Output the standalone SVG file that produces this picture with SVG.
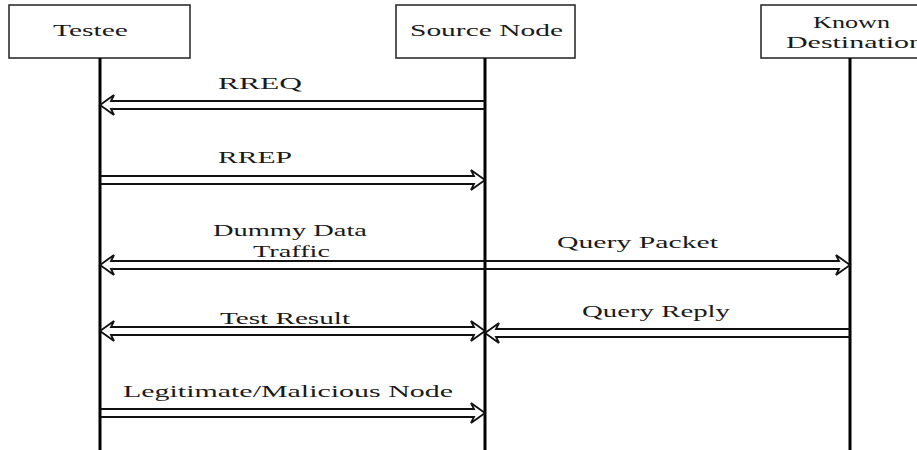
<svg xmlns="http://www.w3.org/2000/svg" width="917" height="450" viewBox="0 0 917 450">
<style>
.box{fill:#fff;stroke:#222;stroke-width:1.5}
.life{stroke:#000;stroke-width:3}
.arr{fill:none;stroke:#111;stroke-width:1.8;stroke-linejoin:miter}
text{font-family:"Liberation Serif","Times New Roman",serif;font-size:17px;fill:#1a1a1a}
</style>
<rect width="917" height="450" fill="#fff"/>
<g id="testee">
<rect class="box" x="9" y="5" width="181" height="53"/>
<line class="life" x1="100" y1="58" x2="100" y2="450"/>
<text x="53" y="36" textLength="75" lengthAdjust="spacingAndGlyphs">Testee</text>
</g>
<g id="source">
<rect class="box" x="396" y="5" width="179" height="53"/>
<line class="life" x1="485" y1="58" x2="485" y2="450"/>
<text x="410" y="36" textLength="153" lengthAdjust="spacingAndGlyphs">Source Node</text>
</g>
<g id="destination">
<rect class="box" x="761" y="5" width="180" height="53"/>
<line class="life" x1="850" y1="58" x2="850" y2="450"/>
<text x="813" y="28" textLength="77" lengthAdjust="spacingAndGlyphs">Known</text>
<text x="786" y="48" textLength="138" lengthAdjust="spacingAndGlyphs">Destination</text>
</g>
<g id="connectors">
<path class="arr" d="M485,101 H111 L114,95 L100,105 L114,115 L111,109 H485"/>
<path class="arr" d="M100,176 H474 L471,170 L485,180 L471,190 L474,184 H100"/>
<path class="arr" d="M485,261 H111 L114,255 L100,265 L114,275 L111,269 H485"/>
<path class="arr" d="M485,261 H839 L836,255 L850,265 L836,275 L839,269 H485"/>
<path class="arr" d="M111,327 H474 L471,321 L485,331 L471,341 L474,335 H111 L114,341 L100,331 L114,321 Z"/>
<path class="arr" d="M850,329 H496 L499,323 L485,333 L499,343 L496,337 H850"/>
<path class="arr" d="M100,409 H474 L471,403 L485,413 L471,423 L474,417 H100"/>
<text x="218" y="89" textLength="84" lengthAdjust="spacingAndGlyphs">RREQ</text>
<text x="218" y="163" textLength="74" lengthAdjust="spacingAndGlyphs">RREP</text>
<text x="213" y="236" textLength="154" lengthAdjust="spacingAndGlyphs">Dummy Data</text>
<text x="253" y="257" textLength="77" lengthAdjust="spacingAndGlyphs">Traffic</text>
<text x="557" y="248" textLength="161" lengthAdjust="spacingAndGlyphs">Query Packet</text>
<text x="220" y="324" textLength="130" lengthAdjust="spacingAndGlyphs">Test Result</text>
<text x="582" y="317" textLength="148" lengthAdjust="spacingAndGlyphs">Query Reply</text>
<text x="123" y="397" textLength="330" lengthAdjust="spacingAndGlyphs">Legitimate/Malicious Node</text>
</g>
</svg>
